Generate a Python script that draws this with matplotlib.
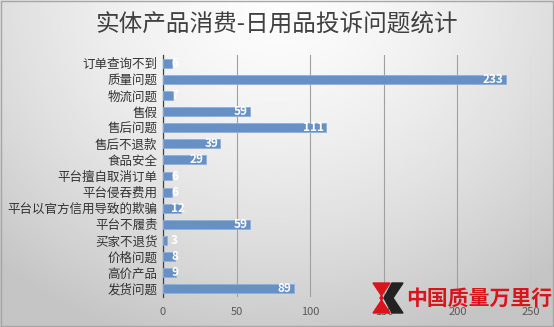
import numpy as np
import matplotlib.pyplot as plt
from matplotlib.patches import Polygon

plt.rcParams['font.family'] = ['Noto Sans CJK SC', 'DejaVu Sans']

categories = ['订单查询不到', '质量问题', '物流问题', '售假', '售后问题', '售后不退款',
              '食品安全', '平台擅自取消订单', '平台侵吞费用', '平台以官方信用导致的欺骗',
              '平台不履责', '买家不退货', '价格问题', '高价产品', '发货问题']
values = [6, 233, 7, 59, 111, 39, 29, 6, 6, 12, 59, 3, 8, 9, 89]
x_ticks = [0, 50, 100, 150, 200, 250]

fig = plt.figure(figsize=(5.54, 3.27), dpi=100)

# radial gray background
bg = fig.add_axes([0, 0, 1, 1], zorder=-10)
yy, xx = np.mgrid[0:1:200j, 0:1:340j]
r = np.sqrt(((xx - 0.5) / 0.75) ** 2 + ((yy - 0.0) / 1.1) ** 2)
shade = 0.99 - 0.22 * np.clip(r, 0, 1) ** 1.5
bg.imshow(shade, cmap='gray', vmin=0, vmax=1, aspect='auto', extent=[0, 1, 1, 0])
bg.set_xlim(0, 1)
bg.set_ylim(1, 0)
bg.axis('off')
bg.add_patch(plt.Rectangle((0.001, 0.002), 0.997, 0.995, fill=False,
                           edgecolor='#a6a6a6', lw=1, transform=bg.transAxes))

ax = fig.add_axes([163 / 554, 1 - 297 / 327, (531 - 163) / 554, (297 - 55) / 327])
ax.patch.set_alpha(0)
y = np.arange(len(categories))
ax.barh(y, values, height=0.55, color='#6690c6', edgecolor='#8fb0dc', linewidth=0.6, zorder=3)
for yi, v in zip(y, values):
    if v < 15:
        ax.text(5.5, yi, str(v), color='white', fontsize=8.5, fontweight='bold',
                ha='left', va='center', zorder=4)
    else:
        ax.text(v - 1.5, yi, str(v), color='white', fontsize=8.5, fontweight='bold',
                ha='right', va='center', zorder=4)

ax.set_yticks(y)
ax.set_yticklabels(categories, fontsize=9, color='#333333')
ax.set_ylim(len(categories) - 0.5, -0.5)
ax.set_xlim(0, 250)
ax.set_xticks(x_ticks)
ax.tick_params(axis='x', labelsize=8, colors='#595959', length=0, pad=7)
ax.tick_params(axis='y', length=0, pad=4)
ax.grid(axis='x', color='#a0a0a0', linewidth=0.8, zorder=0)
for s in ['top', 'right', 'bottom']:
    ax.spines[s].set_visible(False)
ax.spines['left'].set_color('#404040')
ax.spines['left'].set_linewidth(0.9)

fig.text(0.5, 1 - 24 / 327, '实体产品消费-日用品投诉问题统计', ha='center', va='center',
         fontsize=17, fontweight='medium', color='#404040')

# watermark
fig.text(406 / 554, 1 - 298 / 327, '中国质量万里行', ha='left', va='center',
         fontsize=15, fontweight='bold', color='#d9141c')
pts_r = np.array([(373, 283), (390, 283), (380, 298), (390, 313), (373, 313), (383, 298)])
pts_b = np.array([(392, 283), (403, 283), (393, 298), (403, 313), (392, 313), (384, 298)])
for pts, c in [(pts_b, '#222222'), (pts_r, '#d9141c')]:
    p = pts.astype(float)
    p[:, 0] /= 554
    p[:, 1] = 1 - p[:, 1] / 327
    fig.patches.append(Polygon(p, closed=True, color=c, transform=fig.transFigure, zorder=5))

fig.savefig('out.png', dpi=100)
